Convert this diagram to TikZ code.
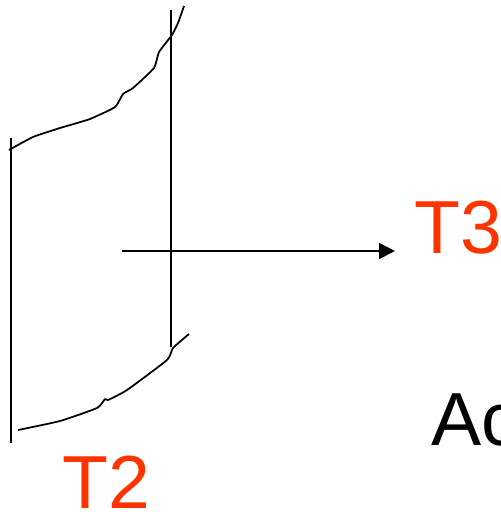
\documentclass[tikz,border=0pt]{standalone}
\usepackage{fontspec}
\setmainfont{Liberation Sans}
\usetikzlibrary{arrows.meta}
\definecolor{labelred}{RGB}{255,51,0}
\tikzset{
  sketchline/.style={line width=1pt, black, line join=round},
  axisarrow/.style={-{Triangle[length=9pt, width=9pt]}, line width=1pt, black},
  bigtext/.style={anchor=base west, inner sep=0pt, font=\fontsize{42.8}{50}\selectfont},
  redlabel/.style={bigtext, text=labelred}
}
\begin{document}
\begin{tikzpicture}[x=0.02cm, y=-0.02cm]
  % Page frame
  \useasboundingbox (0,0) rectangle (501,512);
  \clip (0,0) rectangle (501,512);

  % Vertical lines
  \draw[sketchline] (11,138) -- (11,443);
  \draw[sketchline] (171,10) -- (171,347);

  % Upper curve
  \draw[sketchline] plot[smooth, tension=0.3] coordinates {(9,150) (33,137) (60,128) (90,119) (115,107) (123,94) (133,88) (154,68) (159,52) (172,35) (178,23) (184,6)};

  % Lower curve
  \draw[sketchline] plot[smooth, tension=0.3] coordinates {(18,430) (60,421) (97,408) (105,399) (108,400) (127,390) (167,360) (173,348) (189,334)};

  % Arrow
  \coordinate (tail) at (122,251);
  \coordinate (head) at (395,251);
  \draw[axisarrow] (tail) -- (head);

  % Labels
  \node[redlabel] (t3) at (414,253) {T3};
  \node[redlabel] (t2) at (62,508) {T2};
  \node[bigtext] (ac) at (431,445) {Ac};
\end{tikzpicture}
\end{document}
